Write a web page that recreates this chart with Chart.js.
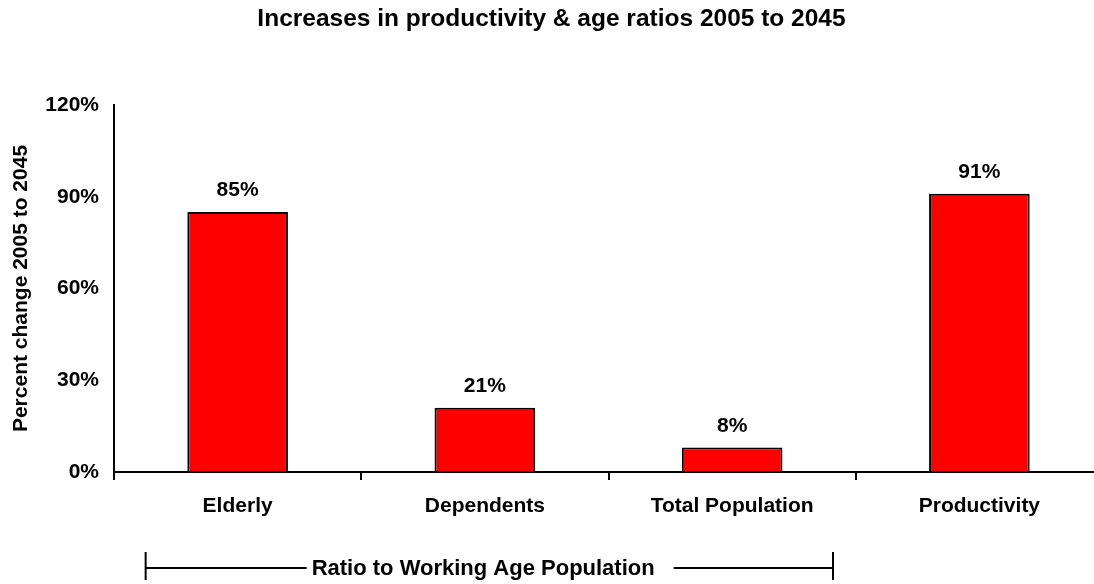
<!DOCTYPE html>
<html>
<head>
<meta charset="utf-8">
<script src="https://cdn.jsdelivr.net/npm/chart.js@4/dist/chart.umd.min.js"></script>
<style>
    body { margin: 0; background: #fff; }
    #wrap { width: 1094px; height: 584px; overflow: hidden; }
</style>
</head>
<body>
<div id="wrap">
    <canvas id="ratioChart" width="1104" height="584"></canvas>
</div>
<script>
// chart data
const categories = ['Elderly', 'Dependents', 'Total Population', 'Productivity'];
const percentChange = [85, 21, 8, 91];
const yTicks = [0, 30, 60, 90, 120];
const bracketLabel = 'Ratio to Working Age Population';

const FONT = "'Liberation Sans', Arial, Helvetica, sans-serif";

// value labels above each bar
const barLabels = {
    id: 'barLabels',
    afterDatasetsDraw(chart) {
        const ctx = chart.ctx;
        const meta = chart.getDatasetMeta(0);
        ctx.save();
        ctx.font = 'bold 21px ' + FONT;
        ctx.fillStyle = '#000';
        ctx.textAlign = 'center';
        ctx.textBaseline = 'alphabetic';
        meta.data.forEach(function (bar, i) {
            ctx.fillText(percentChange[i] + '%', bar.x, bar.y - 16);
        });
        ctx.restore();
    }
};

// bracket under the first three categories
const groupBracket = {
    id: 'groupBracket',
    afterDraw(chart) {
        const ctx = chart.ctx;
        const x = chart.scales.x;
        const catW = x.getPixelForValue(1) - x.getPixelForValue(0);
        const left = x.getPixelForValue(0) - catW * 0.372;
        const right = x.getPixelForValue(2) + catW * 0.408;
        const base = chart.chartArea.bottom;
        const lineY = base + 96;

        ctx.save();
        ctx.strokeStyle = '#000';
        ctx.lineWidth = 2;
        ctx.font = 'bold 22px ' + FONT;
        ctx.fillStyle = '#000';
        ctx.textAlign = 'left';
        ctx.textBaseline = 'middle';

        const textLeft = left + 166;
        const textW = ctx.measureText(bracketLabel).width;
        ctx.fillText(bracketLabel, textLeft, lineY + 1);

        ctx.beginPath();
        ctx.moveTo(left, base + 80);
        ctx.lineTo(left, base + 108);
        ctx.moveTo(right, base + 80);
        ctx.lineTo(right, base + 108);
        ctx.moveTo(left, lineY);
        ctx.lineTo(textLeft - 5, lineY);
        ctx.moveTo(textLeft + textW + 19, lineY);
        ctx.lineTo(right, lineY);
        ctx.stroke();
        ctx.restore();
    }
};

let ctx = document.getElementById('ratioChart').getContext('2d');
let myBarChart = new Chart(ctx, {
    type: 'bar',
    data: {
        labels: categories,
        datasets: [{
            data: percentChange,
            backgroundColor: '#ff0000',
            borderColor: '#000',
            borderWidth: 2,
            barPercentage: 0.407,
            categoryPercentage: 1
        }]
    },
    options: {
        responsive: false,
        animation: false,
        devicePixelRatio: 1,
        layout: {
            padding: { left: 0, top: 0, right: 1, bottom: 0 }
        },
        plugins: {
            legend: { display: false },
            tooltip: { enabled: false },
            title: {
                display: true,
                text: 'Increases in productivity & age ratios 2005 to 2045',
                color: '#000',
                font: { family: FONT, size: 24.5, weight: 'bold', lineHeight: 1.2 },
                padding: { top: 4.5, bottom: 71.1 }
            }
        },
        scales: {
            x: {
                afterFit: function (scale) { scale.height = 112; },
                border: { display: true, color: '#000', width: 2 },
                grid: {
                    offset: true,
                    drawOnChartArea: false,
                    drawTicks: true,
                    tickLength: 8,
                    color: '#000',
                    lineWidth: 2
                },
                ticks: {
                    color: '#000',
                    padding: 14,
                    maxRotation: 0,
                    autoSkip: false,
                    font: { family: FONT, size: 21, weight: 'bold', lineHeight: 1.2 }
                }
            },
            y: {
                min: 0,
                max: 120,
                afterFit: function (scale) { scale.width = 114; },
                afterBuildTicks: function (scale) {
                    scale.ticks = yTicks.map(function (v) { return { value: v }; });
                },
                border: { display: true, color: '#000', width: 2 },
                grid: { drawOnChartArea: false, drawTicks: false },
                ticks: {
                    color: '#000',
                    padding: 15,
                    font: { family: FONT, size: 21, weight: 'bold' },
                    callback: function (value) { return value + '%'; }
                },
                title: {
                    display: true,
                    text: 'Percent change 2005 to 2045',
                    color: '#000',
                    padding: { top: 9, bottom: 0 },
                    font: { family: FONT, size: 21, weight: 'bold', lineHeight: 1.2 }
                }
            }
        }
    },
    plugins: [barLabels, groupBracket]
});
</script>
</body>
</html>
